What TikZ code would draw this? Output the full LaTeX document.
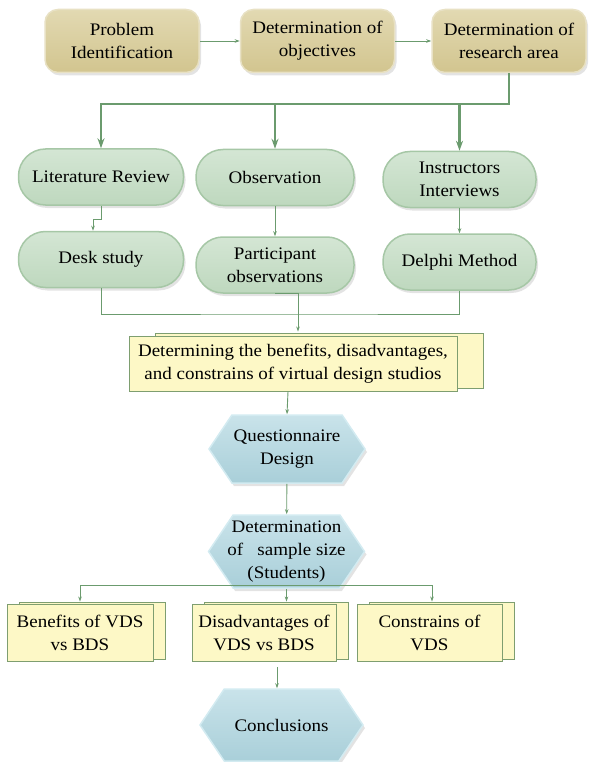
\documentclass[tikz,border=0pt]{standalone}
\usepackage{fontspec}
\setmainfont{Liberation Serif}[FakeStretch=1.08]
\usepackage{xcolor}
\usepackage{tikz}
\usetikzlibrary{shapes.symbols,shadows,arrows.meta}

\definecolor{tanfill}{HTML}{D2C58F}
\definecolor{tantop}{HTML}{E2D9B2}
\definecolor{tanline}{HTML}{E8E1C4}
\definecolor{greenfill}{HTML}{BED8BE}
\definecolor{greentop}{HTML}{D4E6D4}
\definecolor{greenline}{HTML}{A6C7A6}
\definecolor{bluefill}{HTML}{A9CFD9}
\definecolor{bluetop}{HTML}{C9E3EA}
\definecolor{blueline}{HTML}{D3EBF1}
\definecolor{notefill}{HTML}{FDF8C6}
\definecolor{noteline}{HTML}{7E9E70}
\definecolor{linkgreen}{HTML}{6B9B6E}

\begin{document}
\begin{tikzpicture}[x=1pt,y=-1pt,
  font=\fontsize{17.6}{23}\selectfont,
  softshadow/.style={drop shadow={shadow xshift=2pt,shadow yshift=-3pt,opacity=0.22}},
  tanbox/.style={rectangle,rounded corners=13pt,top color=tantop,bottom color=tanfill,
    draw=tanline,line width=1.5pt,softshadow,align=center,inner sep=0pt,
    minimum width=154pt,minimum height=63pt},
  pill/.style={rectangle,rounded corners=27pt,top color=greentop,bottom color=greenfill,
    draw=greenline,line width=1.5pt,softshadow,align=center,inner sep=0pt,
    minimum width=#1,minimum height=56pt},
  hexa/.style={signal,signal to=east and west,signal pointer angle=112,
    top color=bluetop,bottom color=bluefill,draw=blueline,line width=1.5pt,
    softshadow,align=center,inner sep=0pt,minimum width=#1,minimum height=70pt},
  note/.style={rectangle,fill=notefill,draw=noteline,line width=0.9pt,align=center,
    inner sep=0pt,minimum width=#1,minimum height=56pt},
  pile/.style={copy shadow={shadow xshift=12pt,shadow yshift=2pt}},
  conn/.style={draw=linkgreen,line width=0.9pt,-{Stealth[length=5pt,width=3.5pt]}},
  link/.style={draw=linkgreen,line width=0.9pt},
  bus/.style={draw=linkgreen,line width=2.3pt,-{Stealth[length=10pt,width=7pt]}}]
\useasboundingbox (0,0) rectangle (589,762);

% first row
\node (prob) [tanbox] at (122,41) {Problem\\Identification};
\node (obj) [tanbox] at (317.5,41) {Determination of\\objectives};
\node (area) [tanbox] at (509,41) {Determination of\\research area};
\draw [conn] (prob) -- (obj);
\draw [conn] (obj) -- (area);

% methods
\node (lit) [pill=165pt] at (101,177) {Literature Review};
\node (obs) [pill=158pt] at (275,177.5) {Observation};
\node (instr) [pill=153pt] at (459.5,179.5) {Instructors\\Interviews};
\node (desk) [pill=165pt] at (101,259.5) {Desk study};
\node (part) [pill=158pt] at (275,265) {Participant\\observations};
\node (delphi) [pill=153pt] at (459.5,262) {Delphi Method};

\coordinate (split) at (509,104);
\draw [bus] (area.south) -- (split) -| (lit.north);
\draw [bus] (split -| obs.north) -- (obs.north);
\draw [bus] (split -| instr.north) -- (instr.north);

\draw [conn] (lit.south) -- ++(0,14) -| ([xshift=-8pt]desk.north);
\draw [conn] (obs) -- (part);
\draw [conn] (instr) -- (delphi);

% merge into the note
\node (big) [note=328pt,minimum height=55pt,copy shadow={shadow xshift=26pt,shadow yshift=3pt}]
  at (293,363.5) {Determining the benefits, disadvantages,\\and constrains of virtual design studios};
\coordinate (join) at (298,314);
\draw [link] (desk.south) |- (join) -| (delphi.south);
\draw [conn] (part.south) -| ([xshift=5pt,yshift=4pt]big.north);

% questionnaire
\node (quest) [hexa=156pt,minimum height=68pt] at (287,449) {Questionnaire\\Design};
\node (size) [hexa=156pt,minimum height=73pt,inner xsep=-6pt] at (286.5,551.5) {Determination\\of~~ sample size\\(Students)};
\draw [conn] ([xshift=-5pt]big.south) -- (quest.north);
\draw [conn] (quest) -- (size);

% results
\node (ben) [note=146pt,minimum height=57pt,pile] at (80,632.5) {Benefits of VDS\\vs BDS};
\node (dis) [note=144pt,minimum height=57pt,pile] at (264,632.5) {Disadvantages of\\VDS vs BDS};
\node (con) [note=145pt,minimum height=57pt,pile] at (429.5,632.5) {Constrains of\\VDS};
\coordinate (fan) at (286.5,585);
\draw [conn] (fan) -| ([yshift=2pt]ben.north);
\draw [conn] (fan) -| ([xshift=2.5pt,yshift=2pt]con.north);
\draw [conn] (size.south) -- ([xshift=22.5pt,yshift=2pt]dis.north);

\node (concl) [hexa=163pt,minimum height=72pt] at (281.5,725) {Conclusions};
\draw [conn] ([xshift=13pt,yshift=-6pt]dis.south) -- ([xshift=-4.5pt]concl.north);
\end{tikzpicture}
\end{document}
